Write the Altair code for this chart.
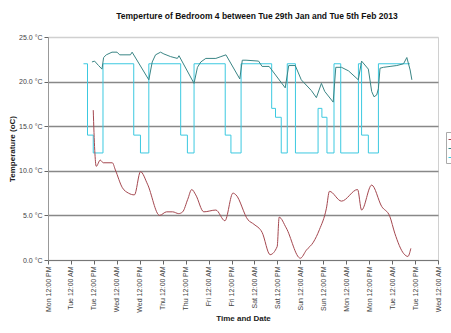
import altair as alt
import pandas as pd

# ---- data ----
outside_times = ["2013-01-29 11:40", "2013-01-29 12:27", "2013-01-29 13:14", "2013-01-29 15:20", "2013-01-29 16:55",
                 "2013-01-29 21:39", "2013-01-29 23:14", "2013-01-30 02:55", "2013-01-30 06:04", "2013-01-30 09:13",
                 "2013-01-30 12:22", "2013-01-30 16:03", "2013-01-30 22:22", "2013-01-31 02:02", "2013-01-31 05:12",
                 "2013-01-31 08:21", "2013-01-31 10:27", "2013-01-31 13:05", "2013-01-31 15:11", "2013-01-31 17:17",
                 "2013-01-31 21:30", "2013-02-01 03:48", "2013-02-01 08:32", "2013-02-01 12:45", "2013-02-01 14:19",
                 "2013-02-01 20:37", "2013-02-01 23:46", "2013-02-02 03:59", "2013-02-02 08:11", "2013-02-02 11:52",
                 "2013-02-02 12:55", "2013-02-02 16:36", "2013-02-03 00:00", "2013-02-03 03:08", "2013-02-03 06:49",
                 "2013-02-03 09:58", "2013-02-03 13:38", "2013-02-03 15:13", "2013-02-03 21:31", "2013-02-04 05:56",
                 "2013-02-04 08:02", "2013-02-04 13:18", "2013-02-04 18:33", "2013-02-04 22:46", "2013-02-05 01:24",
                 "2013-02-05 06:08", "2013-02-05 08:14", "2013-02-05 09:48"]
outside_vals = [16.8, 12.3, 10.5, 11.2, 10.9, 10.9, 10.1, 8.1, 7.5, 7.3,
                9.9, 8.5, 5.0, 5.4, 5.4, 5.2, 5.4, 6.8, 7.9, 7.3,
                5.4, 5.6, 4.4, 7.5, 7.3, 4.5, 4.0, 3.1, 0.6, 1.5,
                4.8, 3.6, 0.2, 1.1, 2.0, 3.4, 5.8, 7.7, 6.6, 7.9,
                5.6, 8.4, 6.0, 4.9, 3.0, 0.7, 0.4, 1.3]

room_times = ["2013-01-29 10:59", "2013-01-29 12:21", "2013-01-29 14:27", "2013-01-29 16:14", "2013-01-29 17:05",
              "2013-01-29 18:30", "2013-01-29 21:29", "2013-01-30 00:07", "2013-01-30 01:29", "2013-01-30 07:07",
              "2013-01-30 08:00", "2013-01-30 16:44", "2013-01-30 18:31", "2013-01-30 20:15", "2013-01-30 22:53",
              "2013-01-31 00:37", "2013-01-31 04:09", "2013-01-31 07:40", "2013-01-31 08:31", "2013-01-31 16:23",
              "2013-01-31 18:11", "2013-01-31 19:55", "2013-01-31 22:33", "2013-02-01 03:48", "2013-02-01 06:26",
              "2013-02-01 09:04", "2013-02-01 16:19", "2013-02-01 17:38", "2013-02-01 19:35", "2013-02-02 02:09",
              "2013-02-02 03:59", "2013-02-02 07:40", "2013-02-02 16:05", "2013-02-02 17:55", "2013-02-02 21:20",
              "2013-02-03 00:29", "2013-02-03 05:45", "2013-02-03 08:23", "2013-02-03 11:01", "2013-02-03 12:45",
              "2013-02-03 17:10", "2013-02-03 18:32", "2013-02-03 21:31", "2013-02-04 01:13", "2013-02-04 06:19",
              "2013-02-04 08:02", "2013-02-04 11:34", "2013-02-04 13:18", "2013-02-04 14:31", "2013-02-04 15:56",
              "2013-02-04 16:49", "2013-02-04 17:40", "2013-02-04 19:27", "2013-02-04 22:55", "2013-02-05 02:26",
              "2013-02-05 05:58", "2013-02-05 07:42", "2013-02-05 09:26", "2013-02-05 10:20"]
room_vals = [22.2, 22.3, 21.8, 21.4, 22.7, 23.0, 23.3, 23.3, 23.0, 23.0,
             23.3, 20.2, 22.2, 23.0, 23.3, 23.1, 22.8, 22.6, 22.9, 19.8,
             21.6, 22.2, 22.6, 22.6, 22.8, 23.0, 20.3, 22.4, 22.4, 22.3,
             21.7, 21.7, 19.3, 21.8, 21.8, 20.2, 19.0, 18.2, 19.8, 18.9,
             17.7, 21.6, 21.6, 21.2, 20.2, 22.3, 21.4, 18.9, 18.3, 18.5,
             19.2, 21.5, 21.6, 21.7, 21.8, 22.0, 22.7, 21.3, 20.2]

target_times = ["2013-01-29 06:34", "2013-01-29 08:40", "2013-01-29 11:40", "2013-01-29 16:46",
                "2013-01-30 08:51", "2013-01-30 12:22", "2013-01-30 16:44",
                "2013-01-31 09:24", "2013-01-31 12:55", "2013-01-31 16:24",
                "2013-02-01 08:42", "2013-02-01 11:41", "2013-02-01 17:00",
                "2013-02-02 09:00", "2013-02-02 11:00", "2013-02-02 14:00", "2013-02-02 17:09", "2013-02-02 21:26",
                "2013-02-03 09:16", "2013-02-03 11:16", "2013-02-03 13:55", "2013-02-03 17:36", "2013-02-03 21:07",
                "2013-02-04 06:22", "2013-02-04 08:02", "2013-02-04 11:34", "2013-02-04 16:50",
                "2013-02-05 09:18"]
target_vals = [22, 14, 12, 22,
               14, 12, 22,
               14, 12, 22,
               14, 12, 22,
               17, 16, 12, 22, 12,
               17, 16, 12, 22, 12,
               22, 14, 12, 22,
               22]

series_names = ["Outside", "Bedroom 4", "Target"]
series_colors = ["#a4474f", "#3a8585", "#3cc9e0"]
y_ticks = [0, 5, 10, 15, 20, 25]
# x ticks every 12 hours: (month, day, hour)
x_tick_stamps = [(1, 28, 12), (1, 29, 0), (1, 29, 12), (1, 30, 0), (1, 30, 12), (1, 31, 0), (1, 31, 12),
                 (2, 1, 0), (2, 1, 12), (2, 2, 0), (2, 2, 12), (2, 3, 0), (2, 3, 12), (2, 4, 0), (2, 4, 12),
                 (2, 5, 0), (2, 5, 12), (2, 6, 0)]

title_text = "Temperture of Bedroom 4 between Tue 29th Jan and Tue 5th Feb 2013"


def frame(name, times, vals):
    return pd.DataFrame({"series": name, "time": times, "temp": vals})


outside_df = frame(series_names[0], outside_times, outside_vals)
room_df = frame(series_names[1], room_times, room_vals)
target_df = frame(series_names[2], target_times, target_vals)

FONT = "Liberation Sans"

x_tick_values = [alt.DateTime(year=2013, month=m, date=d, hours=h) for (m, d, h) in x_tick_stamps]

x_enc = alt.X(
    "time:T",
    scale=alt.Scale(domain=[x_tick_values[0], x_tick_values[-1]], nice=False),
    axis=alt.Axis(
        title="Time and Date",
        format="%a %I:%M %p",
        values=x_tick_values,
        labelAngle=270,
        labelFontSize=7,
        labelColor="#444",
        labelOverlap=False,
        labelFont=FONT,
        labelPadding=2,
        tickSize=4,
        tickColor="#666",
        domainColor="#777",
        grid=False,
        titleFont=FONT,
        titleFontSize=8,
        titleFontWeight="bold",
        titleColor="#222",
        titlePadding=2,
    ),
)

y_enc = alt.Y(
    "temp:Q",
    scale=alt.Scale(domain=[0, 25], nice=False),
    axis=alt.Axis(
        title="Temperature (oC)",
        values=y_ticks,
        labelExpr="format(datum.value, '.1f') + ' °C'",
        labelFontSize=7,
        labelColor="#444",
        labelFont=FONT,
        labelPadding=2,
        tickSize=4,
        tickColor="#666",
        domainColor="#999",
        grid=True,
        gridColor={"condition": {"test": "datum.value === 25 || datum.value === 0", "value": "#d0d0d0"},
                   "value": "#888888"},
        gridWidth=1.4,
        titleFont=FONT,
        titleFontSize=8,
        titleFontWeight="bold",
        titleColor="#222",
        titlePadding=2,
    ),
)

color_enc = alt.Color(
    "series:N",
    scale=alt.Scale(domain=series_names, range=series_colors),
    legend=alt.Legend(
        orient="none",
        legendX=398,
        legendY=95,
        title=None,
        strokeColor="#aaa",
        fillColor="white",
        padding=2,
        symbolType="stroke",
        symbolSize=100,
        symbolStrokeWidth=1,
        labelExpr="''",
        labelFontSize=7,
        labelFont=FONT,
        rowPadding=0,
    ),
)

target_layer = alt.Chart(target_df).mark_line(interpolate="step-after", strokeWidth=1).encode(
    x=x_enc, y=y_enc, color=color_enc)
room_layer = alt.Chart(room_df).mark_line(strokeWidth=1).encode(
    x=x_enc, y=y_enc, color=color_enc)
outside_layer = alt.Chart(outside_df).mark_line(interpolate="monotone", strokeWidth=1).encode(
    x=x_enc, y=y_enc, color=color_enc)

chart = alt.layer(target_layer, room_layer, outside_layer).properties(
    width=390,
    height=223,
    autosize=alt.AutoSizeParams(type="none"),
    padding={"left": 48, "top": 37, "right": 13, "bottom": 73},
    title=alt.TitleParams(
        title_text,
        font=FONT,
        fontSize=8.5,
        fontWeight="bold",
        color="#111",
        anchor="middle",
        dx=14,
        offset=13,
    ),
).configure_view(stroke="#d0d0d0", strokeWidth=1)

chart.save("out.html", embed_options={"renderer": "svg", "actions": False})
